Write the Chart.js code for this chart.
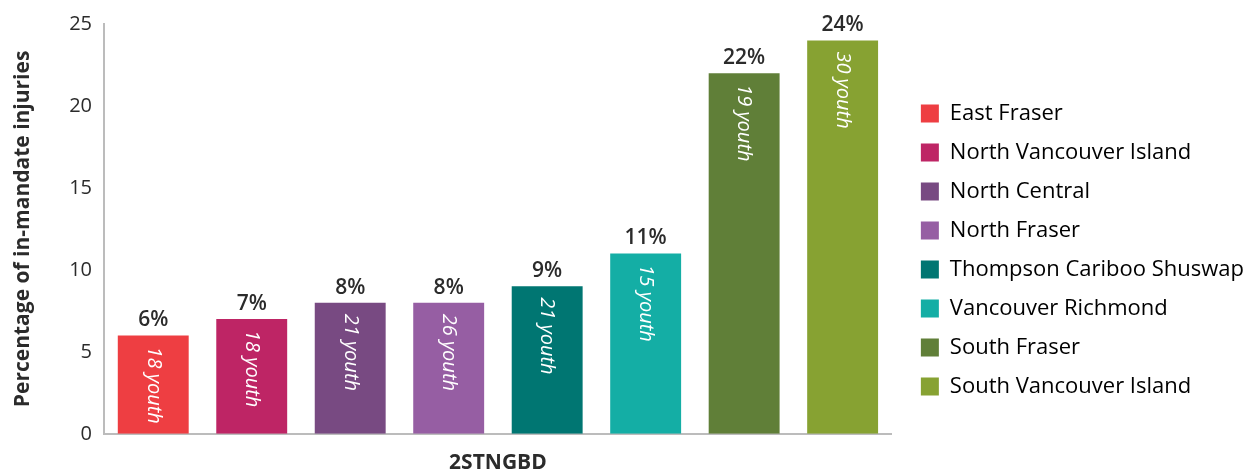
<!DOCTYPE html>
<html>
<head>
<meta charset="utf-8">
<script src="https://cdn.jsdelivr.net/npm/chart.js@4.4.1/dist/chart.umd.min.js"></script>
<style>
  html, body { margin: 0; padding: 0; background: #fff; }
  #wrap { width: 1247px; height: 476px; }
</style>
</head>
<body>
<div id="wrap"><canvas id="injuryChart"></canvas></div>
<script>
// Regions, shares of in-mandate injuries and youth counts
const regions = [
    'East Fraser',
    'North Vancouver Island',
    'North Central',
    'North Fraser',
    'Thompson Cariboo Shuswap',
    'Vancouver Richmond',
    'South Fraser',
    'South Vancouver Island'
];
const injuryPct = [6, 7, 8, 8, 9, 11, 22, 24];
const youthCounts = [18, 18, 21, 26, 21, 15, 19, 30];
const regionColors = [
    '#ee3e42',
    '#be2565',
    '#784a82',
    '#965ea3',
    '#007672',
    '#14aea5',
    '#607f38',
    '#87a232'
];
const yTicks = [0, 5, 10, 15, 20, 25];

const FONT = "'Open Sans', sans-serif";
const TEXT = '#2b2b2b';

// Value above each bar, youth count rotated inside it
const barLabels = {
    id: 'barLabels',
    afterDatasetsDraw(chart) {
        const ctx = chart.ctx;
        const meta = chart.getDatasetMeta(0);
        meta.data.forEach(function(bar, i) {
            ctx.save();
            ctx.fillStyle = TEXT;
            ctx.font = '600 21px ' + FONT;
            ctx.textAlign = 'center';
            ctx.textBaseline = 'alphabetic';
            ctx.fillText(injuryPct[i] + '%', bar.x, bar.y - 9);

            ctx.translate(bar.x, bar.y + 11);
            ctx.rotate(Math.PI / 2);
            ctx.fillStyle = '#fff';
            ctx.font = 'italic 20px ' + FONT;
            ctx.textAlign = 'left';
            ctx.textBaseline = 'middle';
            ctx.fillText(youthCounts[i] + ' youth', 0, 0);
            ctx.restore();
        });
    }
};

// The layout caps a side legend at a fraction of the width; let it be as wide as its text
const wideLegend = {
    id: 'wideLegend',
    beforeLayout(chart) {
        const lg = chart.legend;
        if (lg && !lg.wideFit) {
            const fit = lg.fit;
            lg.fit = function() {
                this.maxWidth = 420;
                fit.call(this);
                this.width -= 9;
            };
            lg.wideFit = true;
        }
    }
};

document.addEventListener('DOMContentLoaded', function() {
    const ctx = document.getElementById('injuryChart');
    new Chart(ctx, {
        type: 'bar',
        data: {
            labels: regions,
            datasets: [{
                data: injuryPct,
                backgroundColor: regionColors,
                borderWidth: 0,
                categoryPercentage: 1,
                barPercentage: 0.72
            }]
        },
        plugins: [barLabels, wideLegend],
        options: {
            responsive: true,
            maintainAspectRatio: false,
            animation: false,
            layout: {
                padding: { top: 24, left: 0, right: 2, bottom: 0 }
            },
            plugins: {
                tooltip: { enabled: false },
                legend: {
                    position: 'right',
                    labels: {
                        boxWidth: 18,
                        boxHeight: 18,
                        padding: 17,
                        color: TEXT,
                        font: { family: FONT, size: 22 },
                        generateLabels: function() {
                            return regions.map(function(name, i) {
                                return {
                                    text: name,
                                    fillStyle: regionColors[i],
                                    strokeStyle: regionColors[i],
                                    lineWidth: 0,
                                    index: i
                                };
                            });
                        }
                    }
                }
            },
            scales: {
                x: {
                    grid: { display: false },
                    border: { color: '#bcbcbc', width: 2 },
                    ticks: { display: false },
                    title: {
                        display: true,
                        text: '2STNGBD',
                        color: TEXT,
                        font: { family: FONT, size: 21, weight: 'bold' },
                        padding: { top: 9, bottom: 0 }
                    }
                },
                y: {
                    min: 0,
                    max: 25,
                    afterBuildTicks: function(scale) {
                        scale.ticks = yTicks.map(function(v) { return { value: v }; });
                    },
                    afterFit: function(scale) {
                        scale.width = 104;
                    },
                    grid: { display: false },
                    border: { color: '#bcbcbc', width: 2 },
                    ticks: {
                        color: TEXT,
                        padding: 4,
                        font: { family: FONT, size: 20 }
                    },
                    title: {
                        display: true,
                        text: 'Percentage of in-mandate injuries',
                        color: TEXT,
                        font: { family: FONT, size: 21, weight: 'bold' },
                        padding: { top: 10, bottom: 2 }
                    }
                },
                // empty spacer between the plot and the legend
                gap: {
                    position: 'right',
                    display: true,
                    afterFit: function(scale) {
                        scale.width = 12;
                    },
                    grid: { display: false },
                    border: { display: false },
                    ticks: { display: false }
                }
            }
        }
    });
});
</script>
</body>
</html>
